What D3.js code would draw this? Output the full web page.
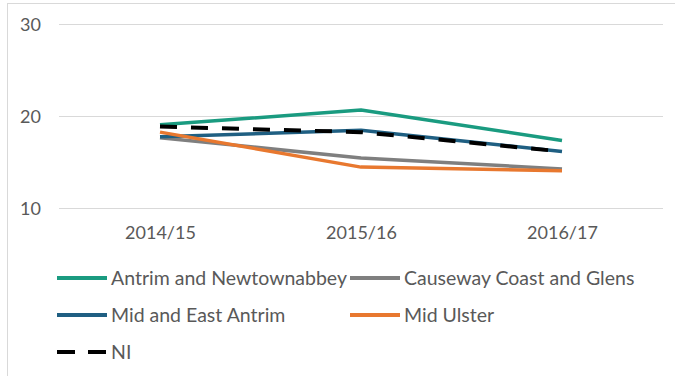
<!DOCTYPE html>
<html>
<head>
<meta charset="utf-8">
<script src="https://cdn.jsdelivr.net/npm/d3@7"></script>
<style>
  html, body { margin: 0; padding: 0; background: #fff; }
  svg { display: block; }
  text { font-family: Lato, "Open Sans", sans-serif; fill: #595959; }
</style>
</head>
<body>
<svg id="chart" width="675" height="376"></svg>
<script>
// Years on the x axis
const years = ["2014/15", "2015/16", "2016/17"];
// Y axis ticks
const yTicks = [10, 20, 30];

// Series values per year
const antrimNewtownabbey = [19.1, 20.7, 17.4];
const causewayCoastGlens = [17.7, 15.5, 14.3];
const midEastAntrim = [17.8, 18.5, 16.2];
const midUlster = [18.3, 14.5, 14.1];
const northernIreland = [18.9, 18.3, 16.2];

const series = [
  { name: "Antrim and Newtownabbey", values: antrimNewtownabbey, color: "#1a9b80", dash: null },
  { name: "Causeway Coast and Glens", values: causewayCoastGlens, color: "#7f7f7f", dash: null },
  { name: "Mid and East Antrim", values: midEastAntrim, color: "#1f5f82", dash: null },
  { name: "Mid Ulster", values: midUlster, color: "#e8782f", dash: null },
  { name: "NI", values: northernIreland, color: "#000000", dash: "17,14" }
];

const svg = d3.select("#chart");

// Frame edges
svg.append("line").attr("x1", 7).attr("x2", 675).attr("y1", 3.5).attr("y2", 3.5)
  .attr("stroke", "#d9d9d9").attr("stroke-width", 1);
svg.append("line").attr("x1", 7.5).attr("x2", 7.5).attr("y1", 3).attr("y2", 376)
  .attr("stroke", "#d9d9d9").attr("stroke-width", 1);

const x = d3.scalePoint().domain(years).range([59.5, 662.5]).padding(0.5);
const y = d3.scaleLinear().domain([10, 30]).range([208.5, 24.5]);

// Gridlines
svg.append("g").selectAll("line").data(yTicks).join("line")
  .attr("x1", 59).attr("x2", 663)
  .attr("y1", d => y(d)).attr("y2", d => y(d))
  .attr("stroke", "#d9d9d9").attr("stroke-width", 1);

// Y axis labels
const yAxis = svg.append("g").attr("transform", "translate(41,0)")
  .call(d3.axisLeft(y).tickValues(yTicks).tickSize(0).tickPadding(0).tickFormat(d3.format("d")));
yAxis.select(".domain").remove();
yAxis.selectAll("text").style("font-size", "18px").attr("fill", "#595959")
  .style("font-family", "Lato, sans-serif");

// X axis labels
const xAxis = svg.append("g").attr("transform", "translate(0,226)")
  .call(d3.axisBottom(x).tickSize(0).tickPadding(0));
xAxis.select(".domain").remove();
xAxis.selectAll("text").style("font-size", "18px").attr("fill", "#595959")
  .style("font-family", "Lato, sans-serif");

// Lines
const line = d3.line().x((d, i) => x(years[i])).y(d => y(d));
svg.append("g").selectAll("path").data(series).join("path")
  .attr("d", d => line(d.values))
  .attr("fill", "none")
  .attr("stroke", d => d.color)
  .attr("stroke-width", d => d.dash ? 4 : 3.5)
  .attr("stroke-dasharray", d => d.dash)
  .attr("stroke-linejoin", "round");

// Legend
const legendPos = [
  { x: 57, y: 278 },
  { x: 350, y: 278 },
  { x: 57, y: 315 },
  { x: 350, y: 315 },
  { x: 57, y: 352 }
];
const legend = svg.append("g").selectAll("g").data(series).join("g")
  .attr("transform", (d, i) => `translate(${legendPos[i].x},${legendPos[i].y})`);
legend.append("line")
  .attr("x1", 0).attr("x2", 50).attr("y1", 0).attr("y2", 0)
  .attr("stroke", d => d.color)
  .attr("stroke-width", 4)
  .attr("stroke-dasharray", d => d.dash ? "18,13" : null);
legend.append("text")
  .attr("x", 54).attr("y", 0).attr("dy", "0.35em")
  .style("font-size", "19.5px")
  .text(d => d.name);
</script>
</body>
</html>
